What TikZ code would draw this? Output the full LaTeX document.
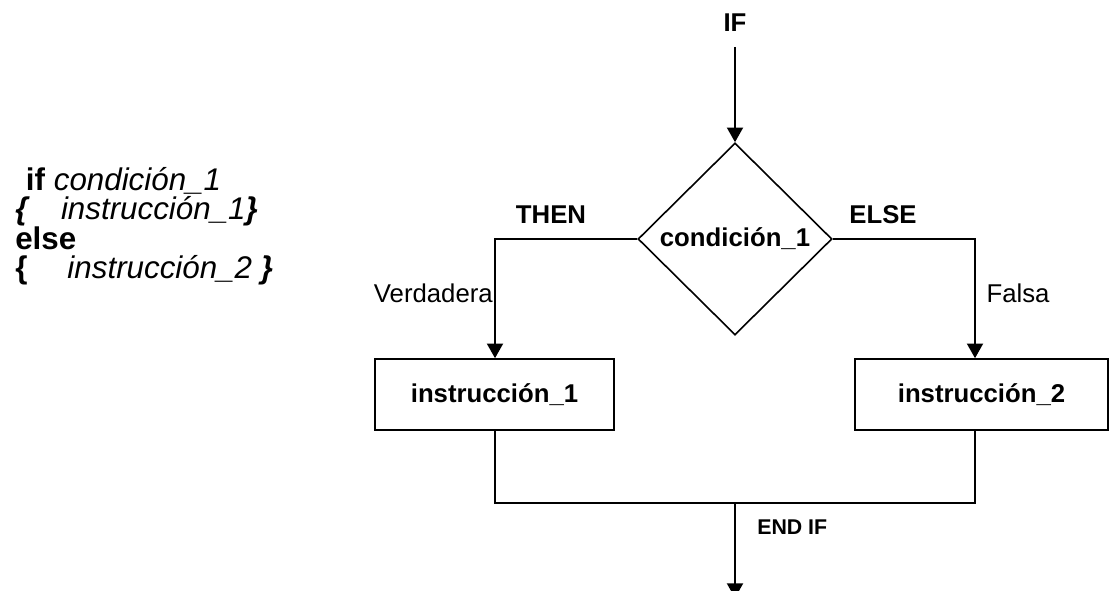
\documentclass[tikz,border=0pt]{standalone}
\usepackage{fontspec}
\setmainfont{Liberation Sans}
\usetikzlibrary{shapes.geometric,arrows.meta}

\begin{document}
\begin{tikzpicture}[x=0.75pt,y=-0.75pt,
    every node/.style={font=\fontsize{19.3}{22}\selectfont},
    flow/.style={line width=1.5pt,-{Triangle[width=12pt,length=11pt]}},
    link/.style={line width=1.2pt},
    stepbox/.style={draw,line width=1.2pt,minimum height=53.25pt,inner sep=0pt,font=\fontsize{19.3}{22}\selectfont\bfseries},
    test/.style={draw,diamond,line width=1.2pt,minimum width=145.5pt,minimum height=144pt,inner sep=0pt,font=\fontsize{19.3}{22}\selectfont\bfseries},
    tag/.style={font=\fontsize{19.3}{22}\selectfont\bfseries}]
  \useasboundingbox (0,0) rectangle (1109,591);
  % pseudo-codigo
  \node[anchor=west,align=left,inner sep=0pt,font=\fontsize{23.5}{21.5}\selectfont] (code) at (15,226)
    {\hspace*{8pt}\textbf{if} \textit{condición\_1}\\
     \textbf{\textit{\{}}\quad\textit{instrucción\_1\textbf{\}}}\\
     \textbf{else}\\
     \textbf{\{}\quad\ \textit{instrucción\_2 \textbf{\}}}};
  % diagrama
  \node[tag] (if) at (735,23) {IF};
  \coordinate (ifout) at (735,47);
  \node[test] (cond) at (735,239) {condición\_1};
  \draw[flow] (ifout) -- (cond.north);
  \node[stepbox,minimum width=179.25pt] (instr1) at (494.5,394.5) {instrucción\_1};
  \node[stepbox,minimum width=189.75pt] (instr2) at (981.5,394.5) {instrucción\_2};
  \coordinate (thenturn) at (495,239);
  \coordinate (elseturn) at (975,239);
  \draw[flow] (cond.west) -- (thenturn) -- (thenturn |- instr1.north);
  \draw[flow] (cond.east) -- (elseturn) -- (elseturn |- instr2.north);
  \node[tag] (then) at (551,215) {THEN};
  \node[tag] (else) at (883,215) {ELSE};
  \node[anchor=east,inner sep=0pt] (true) at (493,293) {Verdadera};
  \node (false) at (1018,293) {Falsa};
  % fin
  \coordinate (join1) at (495,503);
  \coordinate (join2) at (975,503);
  \coordinate (endout) at (735,598);
  \draw[link] (join1 |- instr1.south) -- (join1) -- (join2) -- (join2 |- instr2.south);
  \draw[flow] (cond.south |- join1) -- (endout);
  \node[anchor=west,inner sep=0pt,font=\fontsize{16}{18}\selectfont\bfseries] (endif) at (757,527) {END IF};
\end{tikzpicture}
\end{document}
